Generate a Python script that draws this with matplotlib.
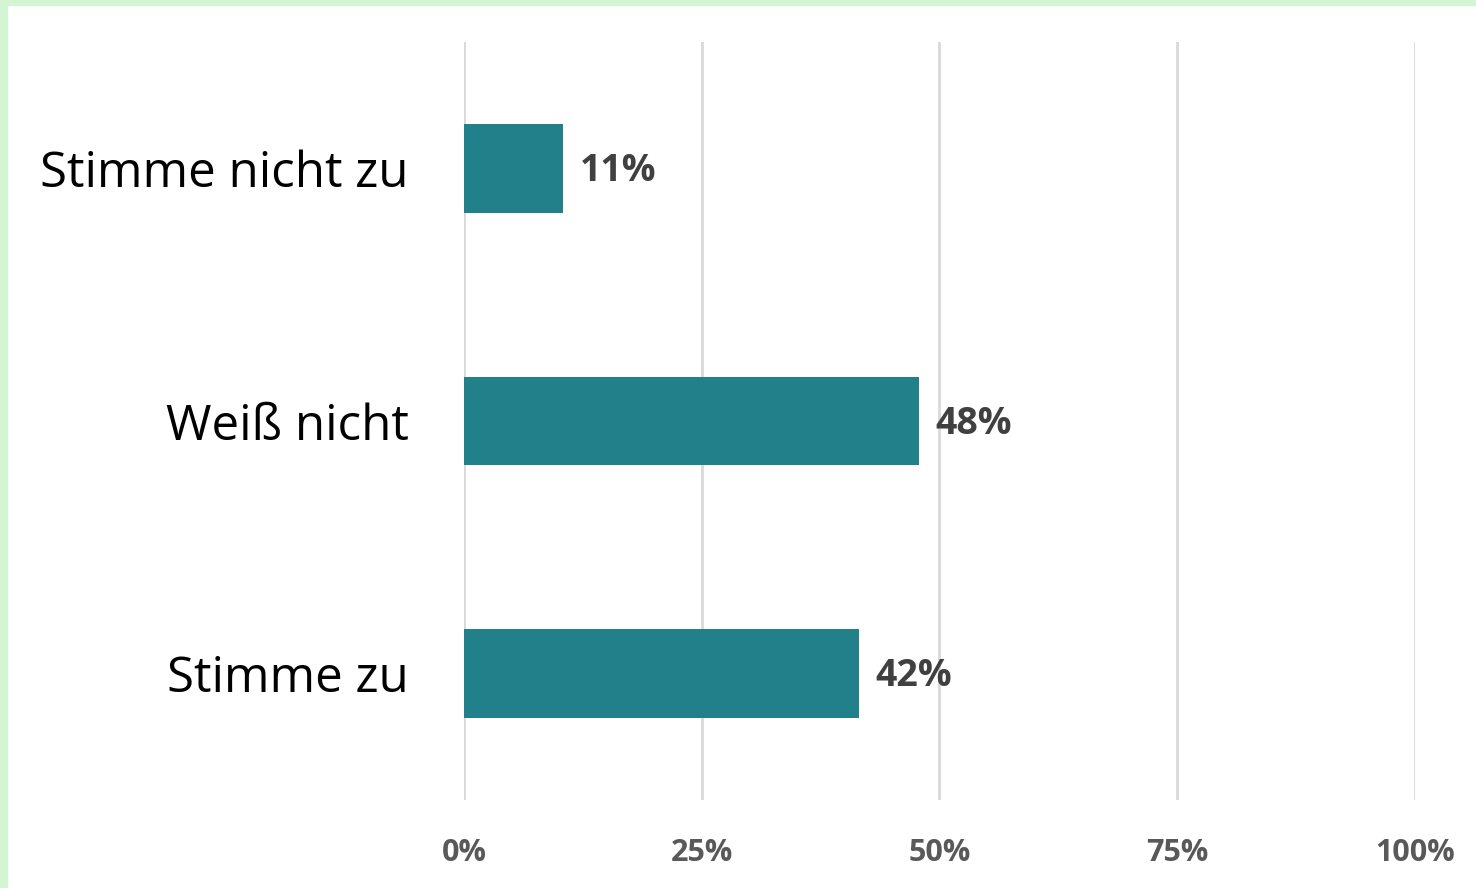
import matplotlib
matplotlib.use("Agg")
import matplotlib.pyplot as plt
from matplotlib.patches import Rectangle

categories = ["Stimme nicht zu", "Weiß nicht", "Stimme zu"]
values = [10.4, 47.8, 41.5]
labels = ["11%", "48%", "42%"]
ticks = [0, 25, 50, 75, 100]
tick_labels = ["0%", "25%", "50%", "75%", "100%"]

plt.rcParams['font.family'] = ['Open Sans', 'DejaVu Sans']

fig = plt.figure(figsize=(14.76, 8.88), dpi=100)
ax = fig.add_axes([464/1476, 1-800/888, (1415-464)/1476, (800-42)/888])

ypos = range(len(categories))
ax.barh(ypos, values, height=0.35, color="#22808a", zorder=3)
for y, v, lab in zip(ypos, values, labels):
    ax.text(v + 1.8, y + 0.01, lab, va="center", ha="left", fontsize=27,
            fontweight="bold", color="#404040")

ax.set_xlim(0, 100)
ax.set_ylim(2.5, -0.5)
ax.set_xticks(ticks)
ax.set_xticklabels(tick_labels, fontsize=22, fontweight="bold", color="#595959")
ax.set_yticks(list(ypos))
ax.set_yticklabels(categories, fontsize=35.5, color="#000000")
ax.tick_params(axis="x", length=0, pad=27)
ax.tick_params(axis="y", length=0, pad=40)
ax.grid(axis="x", color="#d9d9d9", linewidth=2, zorder=0)
for s in ax.spines.values():
    s.set_visible(False)

# light green frame at top and left
fig.patches.append(Rectangle((0, 1-5/888), 1, 5/888, transform=fig.transFigure,
                             color="#d3f5d3", zorder=10))
fig.patches.append(Rectangle((0, 0), 7/1476, 1, transform=fig.transFigure,
                             color="#d3f5d3", zorder=10))

fig.savefig("out.png", dpi=100)
